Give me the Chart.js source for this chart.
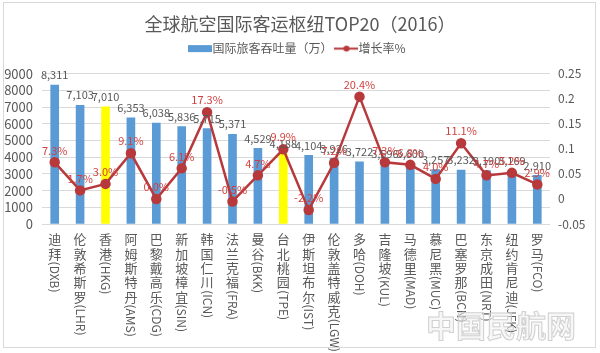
<!DOCTYPE html>
<html>
<head>
<meta charset="utf-8">
<script src="https://cdn.jsdelivr.net/npm/chart.js@4.4.3/dist/chart.umd.min.js"></script>
<style>
  html, body { margin: 0; padding: 0; background: #fff; }
  #wrap { position: relative; width: 600px; height: 353px; }
  #frame { position: absolute; left: 3px; top: 2px; width: 593px; height: 346px; border: 1px solid #d9d9d9; box-sizing: border-box; pointer-events: none; }
  #mark { position: absolute; left: 426px; top: 302px; font: bold 30px "Noto Sans CJK SC"; color: rgba(240,240,240,0.5); -webkit-text-stroke: 1px #d0d0d0; }
</style>
</head>
<body>
<div id="wrap">
  <canvas id="chart" width="600" height="353"></canvas>
  <div id="frame"></div>
  <div id="mark">中国民航网</div>
</div>
<script>
// data
const cities = ['迪拜', '伦敦希斯罗', '香港', '阿姆斯特丹', '巴黎戴高乐', '新加坡樟宜', '韩国仁川', '法兰克福', '曼谷', '台北桃园',
    '伊斯坦布尔', '伦敦盖特威克', '多哈', '吉隆坡', '马德里', '慕尼黑', '巴塞罗那', '东京成田', '纽约肯尼迪', '罗马'];
const codes = ['DXB', 'LHR', 'HKG', 'AMS', 'CDG', 'SIN', 'ICN', 'FRA', 'BKK', 'TPE',
    'IST', 'LGW', 'DOH', 'KUL', 'MAD', 'MUC', 'BCN', 'NRT', 'JFK', 'FCO'];
const passengers = [8311, 7103, 7010, 6353, 6038, 5836, 5715, 5371, 4529, 4188,
    4104, 3926, 3722, 3596, 3600, 3257, 3232, 3190, 3169, 2910];
const growth = [0.073, 0.017, 0.030, 0.091, 0.000, 0.061, 0.173, -0.005, 0.047, 0.099,
    -0.022, 0.072, 0.204, 0.073, 0.068, 0.040, 0.111, 0.047, 0.052, 0.029];
const highlight = ['HKG', 'TPE'];

const labels = cities.map((c, i) => c + '(' + codes[i] + ')');

const BLUE = '#5b9bd5';
const YELLOW = '#ffff00';
const RED = '#b8393b';
const RED_TEXT = '#d0413f';
const GREY = '#595959';
const CJK = '"Noto Sans CJK SC", "Noto Sans", sans-serif';

// little legend icons
function makeIcon(kind) {
    const c = document.createElement('canvas');
    c.width = 24; c.height = 9;
    const g = c.getContext('2d');
    if (kind === 'bar') {
        g.fillStyle = BLUE;
        g.fillRect(0, 1, 24, 7);
    } else {
        g.strokeStyle = RED; g.lineWidth = 2;
        g.beginPath(); g.moveTo(0, 4.5); g.lineTo(24, 4.5); g.stroke();
        g.fillStyle = RED;
        g.beginPath(); g.arc(12, 4.5, 3, 0, Math.PI * 2); g.fill();
    }
    return c;
}
const icons = [makeIcon('bar'), makeIcon('line')];

// push the plot down a bit below the legend
const legendGap = {
    id: 'legendGap',
    beforeLayout(chart) {
        const lg = chart.legend;
        if (!lg || lg._gapDone) return;
        const fit = lg.fit;
        lg.fit = function () {
            fit.call(this);
            this.height += 9;
        };
        lg._gapDone = true;
    }
};

// value labels above bars and points
const valueLabels = {
    id: 'valueLabels',
    afterDatasetsDraw(chart) {
        const ctx = chart.ctx;
        ctx.save();
        ctx.textAlign = 'center';
        ctx.textBaseline = 'middle';
        chart.getDatasetMeta(1).data.forEach((bar, i) => {
            ctx.font = '11px ' + CJK;
            ctx.fillStyle = GREY;
            ctx.fillText(passengers[i].toLocaleString('en-US'), bar.x, bar.y - 10);
        });
        chart.getDatasetMeta(0).data.forEach((pt, i) => {
            ctx.font = '11px ' + CJK;
            ctx.fillStyle = RED_TEXT;
            ctx.fillText((growth[i] * 100).toFixed(1) + '%', pt.x, pt.y - 12);
        });
        ctx.restore();
    }
};

// vertical category labels: chinese upright, code rotated
const verticalTicks = {
    id: 'verticalTicks',
    afterDraw(chart) {
        const ctx = chart.ctx;
        const xs = chart.scales.x;
        ctx.save();
        ctx.fillStyle = GREY;
        cities.forEach((name, i) => {
            const x = xs.getPixelForValue(i);
            let y = xs.top + 9;
            ctx.font = '13px ' + CJK;
            ctx.textAlign = 'center';
            ctx.textBaseline = 'top';
            for (const ch of name) {
                ctx.fillText(ch, x, y);
                y += 14.3;
            }
            ctx.save();
            ctx.translate(x, y);
            ctx.rotate(Math.PI / 2);
            ctx.font = '12px ' + CJK;
            ctx.textAlign = 'left';
            ctx.textBaseline = 'middle';
            ctx.fillText('(' + codes[i] + ')', 0, 0);
            ctx.restore();
        });
        ctx.restore();
    }
};

new Chart(document.getElementById('chart'), {
    data: {
        labels: labels,
        datasets: [
            {
                type: 'line',
                label: '增长率%',
                data: growth,
                yAxisID: 'y1',
                borderColor: RED,
                backgroundColor: RED,
                borderWidth: 2.5,
                pointRadius: 4,
                pointBackgroundColor: RED,
                pointBorderColor: RED,
                tension: 0,
                order: 0
            },
            {
                type: 'bar',
                label: '国际旅客吞吐量（万）',
                data: passengers,
                yAxisID: 'y',
                backgroundColor: codes.map(c => highlight.includes(c) ? YELLOW : BLUE),
                barThickness: 8,
                order: 1
            }
        ]
    },
    options: {
        responsive: false,
        animation: false,
        layout: { padding: 0 },
        plugins: {
            title: {
                display: true,
                text: '全球航空国际客运枢纽TOP20（2016）',
                color: GREY,
                font: { family: CJK, size: 18, weight: 'normal' },
                padding: { top: 13, bottom: 0 }
            },
            legend: {
                display: true,
                reverse: true,
                labels: {
                    color: GREY,
                    font: { family: CJK, size: 12 },
                    usePointStyle: true,
                    padding: 8,
                    generateLabels(chart) {
                        const items = Chart.defaults.plugins.legend.labels.generateLabels(chart);
                        items.forEach(it => { it.pointStyle = icons[it.datasetIndex === 1 ? 0 : 1]; });
                        return items;
                    }
                }
            },
            tooltip: { enabled: false }
        },
        scales: {
            x: {
                offset: true,
                grid: { display: false },
                border: { display: false },
                ticks: { display: false },
                afterFit(scale) { scale.height = 129; }
            },
            y: {
                position: 'left',
                min: 0,
                max: 9000,
                ticks: {
                    stepSize: 1000, autoSkip: false, color: GREY, font: { family: CJK, size: 13 }, padding: 9,
                    callback: v => String(v)
                },
                grid: { color: '#d9d9d9', drawTicks: false },
                border: { display: false },
                afterFit(scale) { scale.width = 42; }
            },
            y1: {
                position: 'right',
                min: -0.05,
                max: 0.25,
                ticks: {
                    stepSize: 0.05, autoSkip: false, color: GREY, font: { family: CJK, size: 12 }, padding: 8,
                    callback: v => String(parseFloat(v.toFixed(2)))
                },
                grid: { drawOnChartArea: false, drawTicks: false },
                border: { display: false },
                afterFit(scale) { scale.width = 50; }
            }
        }
    },
    plugins: [legendGap, valueLabels, verticalTicks]
});
</script>
</body>
</html>
